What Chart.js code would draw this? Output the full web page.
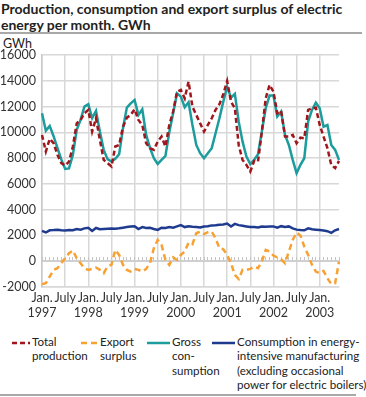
<!DOCTYPE html>
<html>
<head>
<meta charset="utf-8">
<script src="https://cdn.jsdelivr.net/npm/chart.js@4/dist/chart.umd.min.js"></script>
<style>
  body { margin: 0; width: 366px; height: 397px; position: relative; overflow: hidden; background: #fff; color: #222; font-family: Lato, sans-serif; }
  #title { position: absolute; left: 1px; top: 1px; font-size: 14px; font-weight: bold; line-height: 16px; white-space: nowrap; }
  #titleRule { position: absolute; left: 0; top: 32px; width: 362px; height: 2px; background: #a8a8a8; }
  #unit { position: absolute; left: 3px; top: 36px; font-size: 12.5px; }
  #chartBox { position: absolute; left: 0; top: 0; }
  #legend { position: absolute; left: 0; top: 339px; font-size: 11.6px; line-height: 14.3px; }
  .item { position: absolute; top: 0; white-space: nowrap; }
  .item svg { position: absolute; top: 1px; }
  #bottomRule { position: absolute; left: 0; top: 394px; width: 356px; height: 2px; background: #a8a8a8; }
</style>
</head>
<body>
<div id="title">Production, consumption and export surplus of electric<br>energy per month. GWh</div>
<div id="titleRule"></div>
<div id="unit">GWh</div>
<div id="chartBox"><canvas id="energyCanvas" width="366" height="322"></canvas></div>
<div id="legend"></div>
<div id="bottomRule"></div>
<script>
// Jan 1997 - Jun 2003, one value per month
const years = ['1997', '1998', '1999', '2000', '2001', '2002', '2003'];
const monthCount = 78;

const totalProduction = [
  9800, 8510, 9490, 9160, 8250, 7610, 7420, 7730, 8900, 10700, 10960, 11480,
  11740, 10060, 11090, 9410, 7860, 7610, 7350, 8900, 9020, 10440, 11140, 11350,
  11790, 10960, 10570, 9160, 8770, 8640, 9280, 9670, 8900, 10570, 11610, 13160,
  13290, 12640, 13930, 11990, 11350, 10700, 10060, 10570, 11090, 11740, 12180, 12950,
  13980, 12380, 11870, 9000, 7860, 7470, 6960, 7780, 7730, 10060, 12640, 13680,
  13160, 11480, 11660, 9670, 9670, 9800, 9160, 9590, 9540, 11740, 11870, 11920,
  10570, 9670, 8770, 7470, 7220, 7780
];
const exportSurplus = [
  -1780, -1700, -1190, -670, -540, -150, 230, 620, 830, 230, -150, -540,
  -670, -600, -490, -670, -930, -410, -280, 880, 490, -280, -670, -800,
  -600, -670, -800, -600, -150, 1010, 1650, 1260, 100, -280, 300, 100,
  490, 750, 1450, 1320, 2170, 2300, 2100, 2250, 2300, 1780, 1010, 930,
  490, -150, -1060, -1380, -670, -670, -600, -410, -540, -30, 880, 750,
  440, 300, 150, -150, 750, 1650, 2220, 2000, 1140, 490, -280, -800,
  -930, -750, -1320, -1780, -1700, -30
];
const grossConsumption = [
  11480, 10130, 10500, 9700, 8790, 7900, 7165, 7200, 8250, 10190, 10960, 12000,
  12180, 11100, 11660, 10060, 8640, 7920, 7730, 7950, 8300, 10320, 11920, 12250,
  12510, 11350, 11790, 9800, 8790, 8000, 7550, 7860, 8170, 10000, 11480, 13030,
  12770, 11950, 12330, 10570, 9020, 8380, 7990, 8380, 8770, 9930, 11090, 12380,
  13540, 12690, 12980, 10830, 9280, 8120, 7530, 7860, 8300, 10060, 11870, 12850,
  12850, 11220, 11610, 9800, 9020, 7860, 6830, 7470, 7990, 10830, 11740, 12300,
  11870, 10440, 10570, 9020, 8640, 7860
];
const energyIntensive = [
  2350, 2230, 2400, 2420, 2450, 2400, 2380, 2420, 2400, 2500, 2450, 2550,
  2600, 2350, 2580, 2480, 2500, 2520, 2530, 2520, 2550, 2600, 2650, 2700,
  2720, 2500, 2650, 2580, 2600, 2500, 2430, 2600, 2580, 2650, 2600, 2700,
  2800, 2650, 2720, 2680, 2650, 2620, 2700, 2720, 2780, 2800, 2830, 2850,
  2920, 2700, 2900, 2800, 2750, 2700, 2650, 2650, 2620, 2700, 2680, 2700,
  2700, 2600, 2720, 2650, 2700, 2550, 2450, 2420, 2400, 2550, 2480, 2450,
  2420, 2380, 2330, 2200, 2400, 2500
];

const legendLabels = [
  'Total<br>production',
  'Export<br>surplus',
  'Gross<br>con-<br>sumption',
  'Consumption in energy-<br>intensive manufacturing<br>(excluding occasional<br>power for electric boilers)'
];
const seriesColors = ['#a1161c', '#f7a133', '#1c9c9c', '#1f3b8f'];
const seriesDash = [[5, 3], [6, 4], [], []];

const monthLabels = [];
for (let i = 0; i < monthCount; i++) monthLabels.push(i);

const xTickLabel = (i) => {
  if (i % 12 === 0) return ['Jan.', years[i / 12]];
  if (i % 12 === 6) return 'July';
  return '';
};

const gridGrey = '#d8d8d8';
const tickFont = { family: 'Lato, sans-serif', size: 12.5 };

const energyChart = new Chart(document.querySelector('#energyCanvas').getContext('2d'), {
  type: 'line',
  data: {
    labels: monthLabels,
    datasets: [
      { label: 'Total production', data: totalProduction },
      { label: 'Export surplus', data: exportSurplus },
      { label: 'Gross consumption', data: grossConsumption },
      { label: 'Consumption in energy-intensive manufacturing', data: energyIntensive }
    ].map((ds, i) => ({
      ...ds,
      borderColor: seriesColors[i],
      backgroundColor: seriesColors[i],
      borderDash: seriesDash[i],
      borderWidth: 2.5,
      pointRadius: 0,
      tension: 0,
      fill: false
    }))
  },
  options: {
    responsive: false,
    animation: false,
    layout: {
      padding: { top: 55, right: 27, bottom: 5, left: 0 }
    },
    plugins: {
      legend: { display: false },
      tooltip: { enabled: false }
    },
    scales: {
      x: {
        type: 'category',
        offset: false,
        afterFit: (scale) => { scale.height = 30; },
        ticks: {
          color: '#333',
          font: tickFont,
          autoSkip: false,
          maxRotation: 0,
          padding: 3,
          callback: (value, index) => xTickLabel(index)
        },
        grid: {
          drawTicks: false,
          lineWidth: 1.5,
          color: (ctx) => (ctx.index % 6 === 0 ? gridGrey : 'rgba(0, 0, 0, 0)')
        },
        border: { color: gridGrey, width: 1.5 }
      },
      x2: {
        type: 'category',
        position: { y: 0 },
        offset: false,
        ticks: { display: false, autoSkip: false },
        grid: {
          drawOnChartArea: false,
          drawTicks: true,
          tickLength: -5,
          lineWidth: 1,
          color: '#c4c4c4'
        },
        border: { color: '#cfcfcf', width: 2 }
      },
      y: {
        min: -2000,
        max: 16000,
        afterFit: (scale) => { scale.width = 42; },
        ticks: {
          stepSize: 2000,
          color: '#333',
          font: tickFont,
          padding: 6,
          callback: (value) => String(value)
        },
        grid: {
          drawTicks: false,
          lineWidth: 1.5,
          color: gridGrey
        },
        border: { color: '#c8c8c8', width: 1.5 }
      }
    }
  }
});

// legend built from the same series settings
const legendX = [[12, 32], [81, 100], [147, 172], [212, 237]];
const legendBox = document.querySelector('#legend');
legendLabels.forEach((text, i) => {
  const item = document.createElement('div');
  item.className = 'item';
  item.style.left = legendX[i][0] + 'px';
  const w = legendX[i][1] - legendX[i][0] - 2;
  const dash = seriesDash[i].length ? `stroke-dasharray="${seriesDash[i].join(' ')}"` : '';
  item.innerHTML = `<svg width="${w}" height="6" style="left:0"><line x1="0" y1="3" x2="${w}" y2="3" stroke="${seriesColors[i]}" stroke-width="2.5" ${dash}/></svg>` +
    `<div style="position:absolute;left:${legendX[i][1] - legendX[i][0]}px;top:-4px">${text}</div>`;
  legendBox.appendChild(item);
});
</script>
</body>
</html>
